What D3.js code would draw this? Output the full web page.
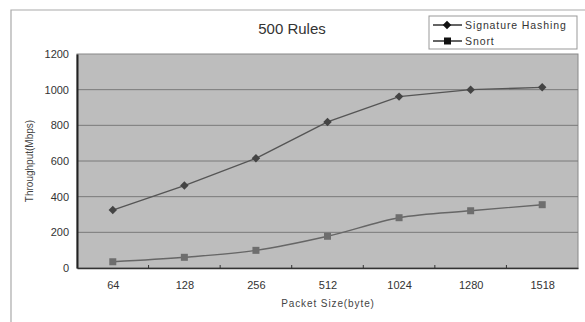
<!DOCTYPE html>
<html><head><meta charset="utf-8">
<script src="https://cdn.jsdelivr.net/npm/d3@7"></script>
<style>body{margin:0;background:#fff;}svg{display:block;font-family:"Liberation Sans",Arial,sans-serif;}</style>
</head><body><svg id="c" width="585" height="322"></svg>
<script>
const categories = ["64","128","256","512","1024","1280","1518"];
const signatureHashing = [325, 462, 615, 819, 961, 1000, 1013];
const snort = [35, 60, 99, 178, 282, 321, 355];
const yTicks = [0, 200, 400, 600, 800, 1000, 1200];
const seriesNames = ["Signature Hashing", "Snort"];

const svg = d3.select("#c");
const L = 77, R = 578, T = 54, B = 268;
const x = d3.scalePoint().domain(categories).range([L, R]).padding(0.5);
const xb = d3.scaleBand().domain(categories).range([L, R]);
const y = d3.scaleLinear().domain([0, 1200]).range([B, T]);

// outer chart frame
svg.append("path").attr("d", `M11,322 L11,10 L585,10`).attr("fill","none").attr("stroke","#aaa").attr("stroke-width",1.2);

// plot area
svg.append("rect").attr("x", L).attr("y", T).attr("width", R-L).attr("height", B-T)
  .attr("fill", "#bdbdbd").attr("stroke", "#888").attr("stroke-width", 1);

// gridlines
svg.append("g").selectAll("line").data(yTicks.filter(d => d > 0 && d < 1200)).join("line")
  .attr("x1", L).attr("x2", R).attr("y1", d => y(d)).attr("y2", d => y(d))
  .attr("stroke", "#7a7a7a").attr("stroke-width", 1);

// axes
const yAxis = svg.append("g").attr("transform", `translate(${L},0)`)
  .call(d3.axisLeft(y).tickValues(yTicks).tickFormat(d3.format("d")).tickSize(0).tickPadding(8));
yAxis.select(".domain").attr("stroke", "#222").attr("stroke-width", 2);
yAxis.selectAll("text").attr("font-size", 11).attr("fill", "#333");

const xAxis = svg.append("g").attr("transform", `translate(0,${B})`)
  .call(d3.axisBottom(x).tickSize(0).tickPadding(13));
xAxis.select(".domain").attr("stroke", "#333").attr("stroke-width", 1.5);
xAxis.selectAll("text").attr("font-size", 11).attr("fill", "#333");
svg.append("g").selectAll("line").data(categories.slice(1)).join("line")
  .attr("x1", d => xb(d)).attr("x2", d => xb(d)).attr("y1", B).attr("y2", B-3)
  .attr("stroke", "#333");

// titles
svg.append("text").attr("x", 292).attr("y", 34).attr("text-anchor", "middle")
  .attr("font-size", 15).attr("fill", "#333").text("500 Rules");
svg.append("text").attr("x", 328).attr("y", 307).attr("text-anchor", "middle")
  .attr("font-size", 10).attr("letter-spacing", 0.9).attr("fill", "#444").text("Packet Size(byte)");
svg.append("text").attr("transform", `translate(33,${(T+B)/2}) rotate(-90)`).attr("text-anchor", "middle")
  .attr("font-size", 10).attr("fill", "#444").text("Throughput(Mbps)");

// lines
const line = d3.line().x((d, i) => x(categories[i])).y(d => y(d));
const smooth = d3.line().x((d, i) => x(categories[i])).y(d => y(d)).curve(d3.curveMonotoneX);
svg.append("path").datum(signatureHashing).attr("d", line).attr("fill", "none").attr("stroke", "#555").attr("stroke-width", 1.4);
svg.append("path").datum(snort).attr("d", smooth).attr("fill", "none").attr("stroke", "#666").attr("stroke-width", 1.4);

svg.append("g").selectAll("rect").data(signatureHashing).join("rect")
  .attr("x", -3).attr("y", -3).attr("width", 6).attr("height", 6)
  .attr("transform", (d, i) => `translate(${x(categories[i])},${y(d)}) rotate(45)`).attr("fill", "#444");
svg.append("g").selectAll("rect").data(snort).join("rect")
  .attr("x", (d, i) => x(categories[i]) - 3.5).attr("y", d => y(d) - 3.5).attr("width", 7).attr("height", 7).attr("fill", "#6e6e6e");

// legend
const lg = svg.append("g");
lg.append("rect").attr("x", 429).attr("y", 16).attr("width", 148).attr("height", 33).attr("fill", "#fff").attr("stroke", "#999");
seriesNames.forEach((n, i) => {
  const yy = 25 + i * 16;
  lg.append("line").attr("x1", 433).attr("x2", 462).attr("y1", yy).attr("y2", yy).attr("stroke", "#222").attr("stroke-width", 1.4);
  if (i === 0) lg.append("rect").attr("x", -3).attr("y", -3).attr("width", 6).attr("height", 6).attr("transform", `translate(447,${yy}) rotate(45)`).attr("fill", "#111");
  else lg.append("rect").attr("x", 444).attr("y", yy - 3.5).attr("width", 7).attr("height", 7).attr("fill", "#111");
  lg.append("text").attr("x", 465).attr("y", yy + 4).attr("font-size", 10.5).attr("letter-spacing", 0.9).attr("fill", "#333").text(n);
});
</script></body></html>
